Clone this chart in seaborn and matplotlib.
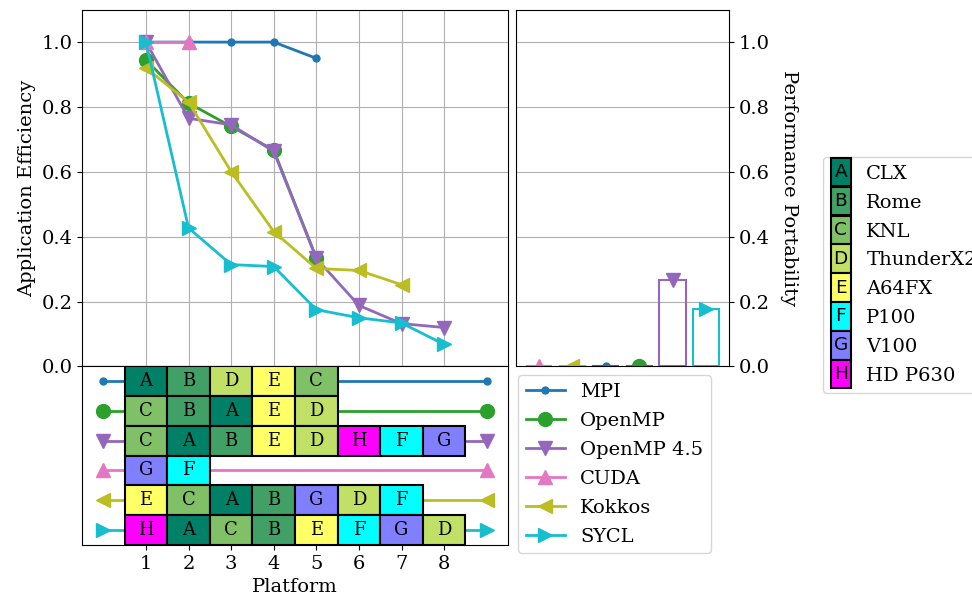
import matplotlib
matplotlib.use('Agg')
import matplotlib.pyplot as plt
import seaborn as sns
from matplotlib.legend_handler import HandlerBase
from matplotlib.patches import Rectangle, Patch
from matplotlib.text import Text

plt.rcParams['font.family'] = 'serif'
plt.rcParams['font.serif'] = ['DejaVu Serif']
plt.rcParams['font.size'] = 14

# Platforms (letters used in the table)
platforms = ['CLX', 'Rome', 'KNL', 'ThunderX2', 'A64FX', 'P100', 'V100', 'HD P630']
letters = ['A', 'B', 'C', 'D', 'E', 'F', 'G', 'H']
cpu_count = 5

# Programming models
models = ['MPI', 'OpenMP', 'OpenMP 4.5', 'CUDA', 'Kokkos', 'SYCL']
model_colors = ['C0', 'C2', 'C4', 'C6', 'C8', 'C9']
model_markers = ['.', 'o', 'v', '^', '<', '>']

# Platform order (best first) and application efficiency for each model
mpi_order = ['A', 'B', 'D', 'E', 'C']
mpi_eff = [1.0, 1.0, 1.0, 1.0, 0.95]
openmp_order = ['C', 'B', 'A', 'E', 'D']
openmp_eff = [0.945, 0.812, 0.74, 0.667, 0.335]
omp45_order = ['C', 'A', 'B', 'E', 'D', 'H', 'F', 'G']
omp45_eff = [1.0, 0.765, 0.745, 0.663, 0.333, 0.188, 0.132, 0.12]
cuda_order = ['G', 'F']
cuda_eff = [1.0, 1.0]
kokkos_order = ['E', 'C', 'A', 'B', 'G', 'D', 'F']
kokkos_eff = [0.92, 0.815, 0.601, 0.416, 0.302, 0.296, 0.252]
sycl_order = ['H', 'A', 'C', 'B', 'E', 'F', 'G', 'D']
sycl_eff = [1.0, 0.427, 0.314, 0.308, 0.175, 0.15, 0.134, 0.068]

orders = [mpi_order, openmp_order, omp45_order, cuda_order, kokkos_order, sycl_order]
effs = [mpi_eff, openmp_eff, omp45_eff, cuda_eff, kokkos_eff, sycl_eff]

# Performance portability (alphabetical order of models)
pp_models = ['CUDA', 'Kokkos', 'MPI', 'OpenMP', 'OpenMP 4.5', 'SYCL']
pp_values = [0.0, 0.0, 0.0, 0.0, 0.266, 0.177]

# platform colours: summer for CPUs, cool for GPUs
summer = plt.get_cmap('summer')
cool = plt.get_cmap('cool')
gpu_count = len(platforms) - cpu_count
plat_colors = [summer(i / (cpu_count - 1)) for i in range(cpu_count)] + \
              [cool(i / (gpu_count - 1)) for i in range(gpu_count)]
letter_color = dict(zip(letters, plat_colors))

fig = plt.figure(figsize=(9.72, 6.04), dpi=100)
gs = fig.add_gridspec(2, 2, width_ratios=[2, 1], height_ratios=[2, 1],
                      left=0.0844, right=0.75, top=0.984, bottom=0.098,
                      wspace=0.025, hspace=0)
ax_eff = fig.add_subplot(gs[0, 0])
ax_pp = fig.add_subplot(gs[0, 1])
ax_tab = fig.add_subplot(gs[1, 0])
ax_leg = fig.add_subplot(gs[1, 1])

n_plat = len(platforms)
xlim = (-0.5, n_plat + 1.5)

# Application efficiency lines
for model, color, marker, eff in zip(models, model_colors, model_markers, effs):
    xs = list(range(1, len(eff) + 1))
    sns.lineplot(x=xs, y=eff, color=color, marker=marker, markersize=10,
                 markeredgecolor=color, markeredgewidth=1, linewidth=2,
                 label=model, legend=False, ax=ax_eff)
ax_eff.set_xlim(xlim)
ax_eff.set_ylim(0, 1.1)
ax_eff.set_xticks(range(1, n_plat + 1))
ax_eff.tick_params(labelbottom=False)
ax_eff.set_yticks([0, 0.2, 0.4, 0.6, 0.8, 1.0])
ax_eff.grid(True)
ax_eff.set_ylabel('Application Efficiency')
ax_eff.set_axisbelow(True)

# Table of platform orderings
for i, (color, marker, order) in enumerate(zip(model_colors, model_markers, orders)):
    ax_tab.plot([0, n_plat + 1], [i, i], color=color, marker=marker,
                markersize=10, linewidth=2, zorder=1)
    pos = list(range(1, len(order) + 1))
    ax_tab.bar(pos, 1, width=1, bottom=i - 0.5,
               color=[letter_color[l] for l in order],
               edgecolor='black', linewidth=1.5, zorder=3)
    for p, l in zip(pos, order):
        ax_tab.text(p, i, l, ha='center', va='center', fontsize=13, zorder=4)
ax_tab.set_xlim(xlim)
ax_tab.set_ylim(len(models) - 0.5, -0.5)
ax_tab.set_xticks(range(1, n_plat + 1))
ax_tab.set_yticks([])
ax_tab.set_xlabel('Platform')

# Performance portability bars
pp_colors = [model_colors[models.index(m)] for m in pp_models]
pp_markers = [model_markers[models.index(m)] for m in pp_models]
sns.barplot(x=pp_models, y=pp_values, hue=pp_models, palette=pp_colors,
            fill=False, linewidth=1.5, width=0.8, legend=False, ax=ax_pp)
for i, (val, c, m) in enumerate(zip(pp_values, pp_colors, pp_markers)):
    ax_pp.plot(i, val, marker=m, color=c, markersize=10)
ax_pp.set_xlim(-0.69, len(pp_models) - 0.31)
ax_pp.set_ylim(0, 1.1)
ax_pp.set_xticks([])
ax_pp.set_yticks([0, 0.2, 0.4, 0.6, 0.8, 1.0])
ax_pp.yaxis.tick_right()
ax_pp.yaxis.set_label_position('right')
ax_pp.set_ylabel('Performance Portability', rotation=270, labelpad=20)
ax_pp.grid(axis='y')
ax_pp.set_axisbelow(True)

# Model legend
handles, labels = ax_eff.get_legend_handles_labels()
ax_leg.axis('off')
ax_leg.legend(handles, labels, loc='upper left', bbox_to_anchor=(0.01, 0.95),
              borderaxespad=0, labelspacing=0.56)


# Platform legend with lettered boxes
class LetterBox(HandlerBase):
    def __init__(self, letter):
        super().__init__()
        self.letter = letter

    def create_artists(self, legend, orig_handle, xdescent, ydescent,
                       width, height, fontsize, trans):
        h = fontsize * 1.46
        cy = height / 2 - ydescent
        rect = Rectangle((-xdescent, cy - h / 2), width, h,
                         facecolor=orig_handle.get_facecolor(),
                         edgecolor='black', linewidth=1.5, transform=trans)
        txt = Text(-xdescent + width / 2, cy, self.letter, ha='center',
                   va='center', fontsize=fontsize * 0.95,
                   family='DejaVu Sans', transform=trans)
        return [rect, txt]


plat_handles = [Patch(facecolor=c) for c in plat_colors]
hmap = {h: LetterBox(l) for h, l in zip(plat_handles, letters)}
ax_pp.legend(plat_handles, platforms, handler_map=hmap, loc='upper left',
             bbox_to_anchor=(1.441, 0.587), borderaxespad=0,
             handlelength=1.03, labelspacing=0.56)

fig.savefig('out.png', dpi=100)
